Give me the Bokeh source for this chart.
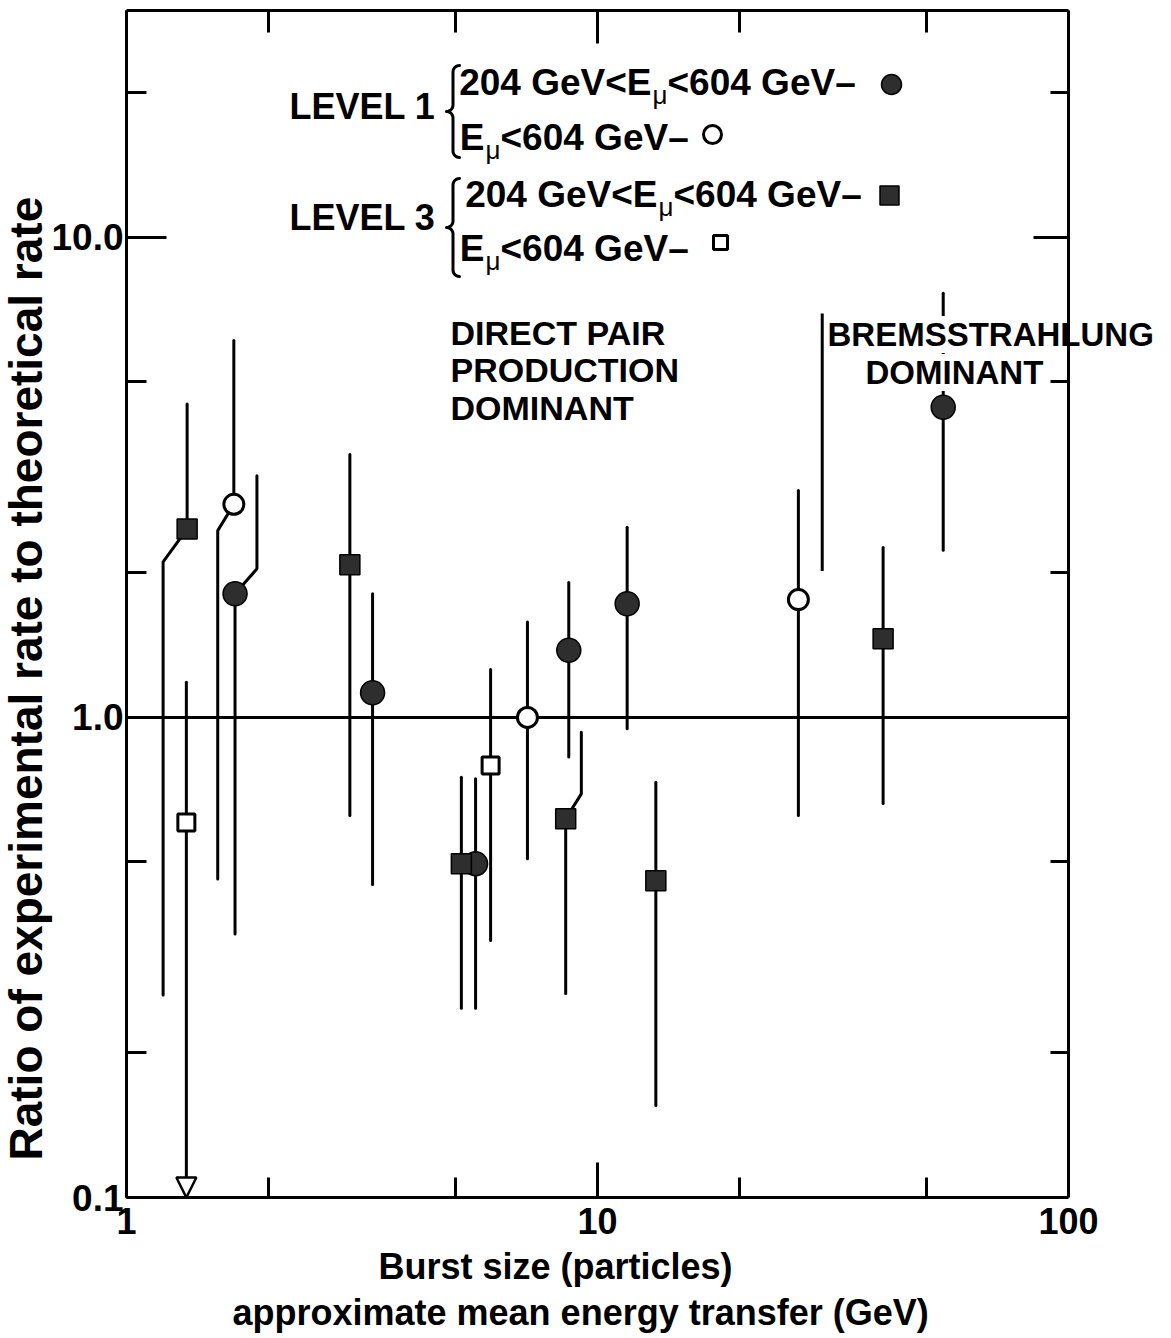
import math
from bokeh.plotting import figure
from bokeh.models import (FixedTicker, CustomJSTickFormatter, LogAxis, Label,
                          Arrow, NormalHead, Range1d, Title)
from bokeh.embed import file_html
from bokeh.resources import INLINE

# ---------------- data ----------------
# LEVEL 1, 204 GeV < E_mu < 604 GeV  (filled circles)
l1_hi_x = [1.70, 3.33, 5.51, 8.69, 11.56, 54.2]
l1_hi_y = [1.81, 1.126, 0.496, 1.38, 1.725, 4.43]
l1_hi_lo = [0.354, 0.449, 0.248, 0.827, 0.947, 2.23]
l1_hi_up = [3.19, 1.81, 0.745, 1.91, 2.49, 7.65]

# LEVEL 1, E_mu < 604 GeV  (open circles)
l1_all_x = [1.69, 7.10, 26.7]
l1_all_y = [2.78, 1.0, 1.76]
l1_all_lo = [0.461, 0.508, 0.625]
l1_all_up = [6.1, 1.58, 2.97]

# LEVEL 3, 204 GeV < E_mu < 604 GeV  (filled squares)
l3_hi_x = [1.345, 2.98, 5.14, 8.56, 13.3, 40.4]
l3_hi_y = [2.47, 2.08, 0.496, 0.615, 0.457, 1.459]
l3_hi_lo = [0.264, 0.625, 0.248, 0.266, 0.1555, 0.662]
l3_hi_up = [4.50, 3.53, 0.751, 0.932, 0.733, 2.26]

# LEVEL 3, E_mu < 604 GeV  (open squares); None = upper limit (arrow)
l3_all_x = [1.34, 5.93]
l3_all_y = [0.604, 0.794]
l3_all_lo = [None, 0.343]
l3_all_up = [1.184, 1.259]

# error bars drawn with a dog-leg: (series, index, side, bend x, bend y)
bent_bars = [("l3_hi", 0, "lo", 1.196, 2.11),
             ("l1_all", 0, "lo", 1.562, 2.45),
             ("l1_hi", 0, "up", 1.892, 2.04),
             ("l3_hi", 3, "up", 9.24, 0.693)]

# boundary of the bremsstrahlung-dominant region
brems_x = [30.0]
brems_lo = [2.02]
brems_hi = [6.94]

ref_ratio = 1.0   # experiment == theory

x_ticks = [1, 10, 100]
x_tick_labels = ["1", "10", "100"]
x_minor = [2, 5, 20, 50]
y_ticks = [0.1, 1, 10]
y_tick_labels = ["0.1", "1.0", "10.0"]
y_minor = [0.2, 0.5, 2, 5, 20]
X_AXIS = (1, 100)
Y_RANGE = (0.1, 29.7)

# ---------------- layout ----------------
W, H = 1168, 1336
FL, FR, FT, FB = 126, 1068, 10, 1197   # plot box edges in the picture
RB = 4                                 # frame runs on past the box (for the text)
SANS = "Liberation Sans"

LX0, LX1 = math.log10(X_AXIS[0]), math.log10(X_AXIS[1])
LY0, LY1 = math.log10(Y_RANGE[0]), math.log10(Y_RANGE[1])
X_END = 10 ** (LX0 + (W - RB - FL) / (FR - FL) * (LX1 - LX0))

p = figure(width=W, height=H, x_axis_type="log", y_axis_type="log",
           x_range=Range1d(X_AXIS[0], X_END), y_range=Range1d(*Y_RANGE),
           output_backend="svg", toolbar_location=None,
           min_border_left=FL, min_border_right=RB,
           min_border_top=FT, min_border_bottom=H - FB)
p.xgrid.visible = False
p.ygrid.visible = False
p.background_fill_color = "white"
p.border_fill_color = "white"
p.outline_line_color = None


def xd(px):
    return 10 ** (LX0 + (px - FL) / (FR - FL) * (LX1 - LX0))


def yd(py):
    return 10 ** (LY0 + (FB - py) / (FB - FT) * (LY1 - LY0))


def formatter(tick_values, labels):
    return CustomJSTickFormatter(args=dict(tvals=tick_values, tlabels=labels), code="""
        let best = -1, bd = 1e9;
        for (let i = 0; i < tvals.length; i++) {
            const d = Math.abs(Math.log10(tick) - Math.log10(tvals[i]));
            if (d < bd) { bd = d; best = i; }
        }
        return bd < 1e-6 ? tlabels[best] : "";
    """)


def style_axis(ax, tick_values, minor, labels, major_in, minor_in, font_size, standoff):
    ax.ticker = FixedTicker(ticks=tick_values, minor_ticks=minor)
    ax.formatter = formatter(tick_values, labels)
    ax.axis_line_color = "black"
    ax.axis_line_width = 3
    ax.major_tick_in = major_in
    ax.major_tick_out = 0
    ax.minor_tick_in = minor_in
    ax.minor_tick_out = 0
    ax.major_tick_line_width = 3
    ax.minor_tick_line_width = 3
    ax.major_tick_line_color = "black"
    ax.minor_tick_line_color = "black"
    ax.major_label_text_font = SANS
    ax.major_label_text_font_style = "bold"
    ax.major_label_text_font_size = font_size
    ax.major_label_text_color = "black"
    ax.major_label_standoff = standoff


bottom = p.xaxis[0]
style_axis(bottom, x_ticks, x_minor, x_tick_labels, 35, 20, "36px", 10)
bottom.bounds = X_AXIS
style_axis(p.yaxis[0], y_ticks, y_minor, y_tick_labels, 40, 20, "37px", 3)
top = LogAxis(bounds=X_AXIS)
style_axis(top, x_ticks, x_minor, ["", "", ""], 33, 22, "0px", 0)
right = LogAxis(fixed_location=X_AXIS[1], level="overlay")
style_axis(right, y_ticks, y_minor, ["", "", ""], 35, 18, "0px", 0)
p.add_layout(top, "above")
p.add_layout(right, "right")

# axis titles
p.add_layout(Title(text="Ratio of experimental rate to theoretical rate", align="left",
                   offset=37, standoff=-6, text_font=SANS, text_font_size="46px",
                   text_font_style="bold", text_color="black"), "left")
p.add_layout(Title(text="Burst size (particles)", align="left", offset=252, standoff=14,
                   text_font=SANS, text_font_size="36px", text_font_style="bold",
                   text_color="black"), "below")
p.add_layout(Title(text="approximate mean energy transfer (GeV)", align="left", offset=106,
                   standoff=-7, text_font=SANS, text_font_size="36px",
                   text_font_style="bold", text_color="black"), "below")

# reference line at ratio = 1
p.segment(x0=[X_AXIS[0]], y0=[ref_ratio], x1=[X_AXIS[1]], y1=[ref_ratio],
          line_color="black", line_width=3)

# ---------------- error bars ----------------
series = {
    "l1_hi": (l1_hi_x, l1_hi_y, l1_hi_lo, l1_hi_up),
    "l1_all": (l1_all_x, l1_all_y, l1_all_lo, l1_all_up),
    "l3_hi": (l3_hi_x, l3_hi_y, l3_hi_lo, l3_hi_up),
    "l3_all": (l3_all_x, l3_all_y, l3_all_lo, l3_all_up),
}
bends = {(s, i): (side, bx, by) for s, i, side, bx, by in bent_bars}
bar_xs, bar_ys = [], []
for name, (xs, ys, los, ups) in series.items():
    for i, (x, y, lo, up) in enumerate(zip(xs, ys, los, ups)):
        bend = bends.get((name, i))
        for side, end in (("lo", lo), ("up", up)):
            if end is None:
                continue
            if bend is not None and bend[0] == side:
                bar_xs.append([x, bend[1], bend[1]])
                bar_ys.append([y, bend[2], end])
            else:
                bar_xs.append([x, x])
                bar_ys.append([y, end])
p.multi_line(bar_xs, bar_ys, line_color="black", line_width=3, line_cap="round")

# upper limit arrow
for x, y, lo in zip(l3_all_x, l3_all_y, l3_all_lo):
    if lo is None:
        p.add_layout(Arrow(end=NormalHead(size=20, fill_color="white", line_color="black",
                                          line_width=2.5),
                           x_start=x, y_start=y, x_end=x, y_end=Y_RANGE[0],
                           line_color="black", line_width=3, level="underlay"))

# region boundary
p.segment(x0=brems_x, y0=brems_lo, x1=brems_x, y1=brems_hi, line_color="black",
          line_width=3)

# ---------------- markers ----------------
FILL = "#2e2e2e"
p.scatter(l1_hi_x, l1_hi_y, marker="circle", size=24, fill_color=FILL,
          line_color="black", line_width=1.5)
p.scatter(l1_all_x, l1_all_y, marker="circle", size=20, fill_color="white",
          line_color="black", line_width=3)
p.scatter(l3_hi_x, l3_hi_y, marker="square", size=20, fill_color=FILL,
          line_color="black", line_width=1.5)
p.scatter(l3_all_x, l3_all_y, marker="square", size=17, fill_color="white",
          line_color="black", line_width=3)


# ---------------- texts ----------------
def text(t, xpx, ypx, size, style="bold", align="left", bg=None):
    lab = Label(x=xd(xpx), y=yd(ypx), text=t, text_font=SANS,
                text_font_size=f"{size}px", text_font_style=style, text_color="black",
                text_align=align, text_baseline="middle")
    if bg:
        lab.background_fill_color = bg
    p.add_layout(lab)


# legend block
LEG = 37
text("LEVEL 1", 289, 106, 36)
text("LEVEL 3", 289, 217, 36)
legend_lines = [  # (E right edge, y centre, left part)
    (651, 82, "204 GeV<E"),
    (484, 137, "E"),
    (657, 194, "204 GeV<E"),
    (484, 248, "E"),
]
for e_right, yc, left_part in legend_lines:
    text(left_part, e_right, yc, LEG, align="right")
    text("\u03bc", e_right + 1, yc + 12, 26, style="normal")
    text("<604 GeV\u2013", e_right + 16, yc, LEG)

# legend keys
p.scatter([xd(891)], [yd(84)], marker="circle", size=20, fill_color=FILL,
          line_color="black", line_width=1.5)
p.scatter([xd(712)], [yd(134)], marker="circle", size=18, fill_color="white",
          line_color="black", line_width=3)
p.scatter([xd(889)], [yd(195)], marker="square", size=19, fill_color=FILL,
          line_color="black", line_width=1.5)
p.scatter([xd(720)], [yd(242)], marker="square", size=14, fill_color="white",
          line_color="black", line_width=3)


# braces
def brace(xpx, top_px, bot_px, w=13, n=8):
    r = w / 2.0
    mid = (top_px + bot_px) / 2.0
    pts = []
    cx, cy = xpx + w, top_px + r
    for k in range(n + 1):
        th = math.radians(90 + 90 * k / n)
        pts.append((cx + r * math.cos(th), cy - r * math.sin(th)))
    cx, cy = xpx, mid - r
    for k in range(n + 1):
        th = math.radians(-90 * k / n)
        pts.append((cx + r * math.cos(th), cy - r * math.sin(th)))
    cx, cy = xpx, mid + r
    for k in range(n + 1):
        th = math.radians(90 - 90 * k / n)
        pts.append((cx + r * math.cos(th), cy - r * math.sin(th)))
    cx, cy = xpx + w, bot_px - r
    for k in range(n + 1):
        th = math.radians(180 + 90 * k / n)
        pts.append((cx + r * math.cos(th), cy - r * math.sin(th)))
    p.line([xd(a) for a, b in pts], [yd(b) for a, b in pts], line_color="black",
           line_width=3, line_cap="round", line_join="round")


brace(446, 65, 157)
brace(446, 178, 276)

# region texts
text("DIRECT PAIR", 450, 332, 34)
text("PRODUCTION", 450, 369, 34)
text("DOMINANT", 450, 407, 34)
text("BREMSSTRAHLUNG", 827, 334, 33, bg="white")
text("DOMINANT", 865, 372, 33, bg="white")

open("out.html", "w").write(file_html(p, INLINE))
